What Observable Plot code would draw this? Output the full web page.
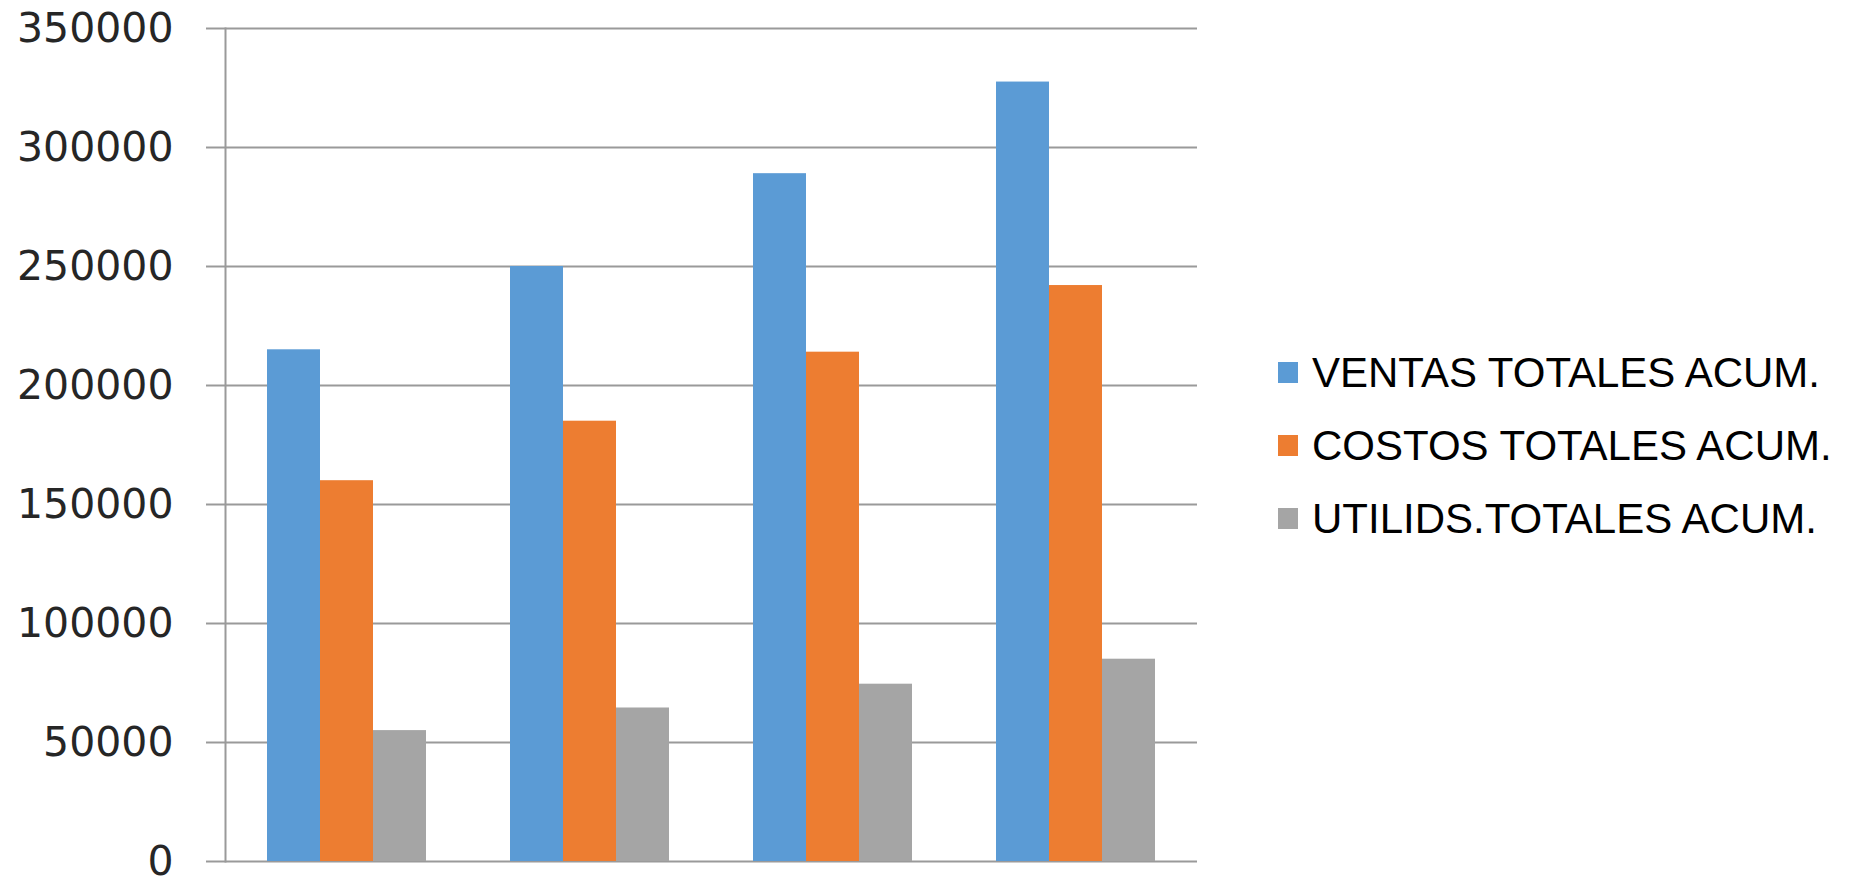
<!DOCTYPE html>
<html><head><meta charset="utf-8">
<script src="https://cdn.jsdelivr.net/npm/d3@7"></script>
<script src="https://cdn.jsdelivr.net/npm/@observablehq/plot@0.6"></script>
<style>
body{margin:0;background:#fff;}
#wrap{position:relative;width:1854px;height:879px;overflow:hidden;}
#wrap svg{overflow:visible;}
#legend{position:absolute;left:1278px;top:336px;font-family:"Liberation Sans",Arial,sans-serif;font-size:42px;color:#000;}
.row{display:flex;align-items:center;height:73px;white-space:nowrap;}
.sw{width:20px;height:21px;margin-right:14px;flex:none;}
</style></head><body><div id="wrap"></div>
<script>
const groups = ["1", "2", "3", "4"];
const seriesNames = ["VENTAS TOTALES ACUM.", "COSTOS TOTALES ACUM.", "UTILIDS.TOTALES ACUM."];
const ventas = [215000, 250000, 289000, 327500];
const costos = [160000, 185000, 214000, 242000];
const utilidades = [55000, 64500, 74500, 85000];
const colors = ["#5B9BD5", "#ED7D31", "#A5A5A5"];
const yTicks = [0, 50000, 100000, 150000, 200000, 250000, 300000, 350000];

const seriesValues = [ventas, costos, utilidades];
const data = groups.flatMap((g, i) => seriesValues.map((arr, j) => ({group: g, serie: seriesNames[j], value: arr[i]})));

const chart = Plot.plot({
  width: 1854, height: 879,
  marginLeft: 225, marginRight: 657, marginTop: 28, marginBottom: 18,
  fx: {domain: groups, padding: 0, axis: null},
  x: {domain: seriesNames, paddingInner: 0, paddingOuter: 0.763, axis: null},
  y: {domain: [0, 350000], axis: null},
  color: {domain: seriesNames, range: colors},
  style: {fontFamily: "DejaVu Sans", fontSize: "41px", background: "white"},
  marks: [
    Plot.gridY(yTicks, {stroke: "#9a9a9a", strokeOpacity: 1, strokeWidth: 2}),
    Plot.axisY({ticks: yTicks, label: null, tickSize: 19, tickPadding: 33, tickFormat: d => String(d),
      stroke: "#9a9a9a", strokeWidth: 2, strokeOpacity: 1, fill: "#262626", fontSize: 41}),
    Plot.barY(data, {fx: "group", x: "serie", y: "value", fill: "serie", inset: 0}),
    Plot.frame({anchor: "left", facetAnchor: "left", stroke: "#9a9a9a", strokeWidth: 2})
  ]
});
const wrap = document.getElementById("wrap");
wrap.appendChild(chart);

const legend = document.createElement("div");
legend.id = "legend";
seriesNames.forEach((name, i) => {
  const row = document.createElement("div");
  row.className = "row";
  const sw = document.createElement("span");
  sw.className = "sw";
  sw.style.background = colors[i];
  const t = document.createElement("span");
  t.textContent = name;
  row.appendChild(sw);
  row.appendChild(t);
  legend.appendChild(row);
});
wrap.appendChild(legend);
</script></body></html>
